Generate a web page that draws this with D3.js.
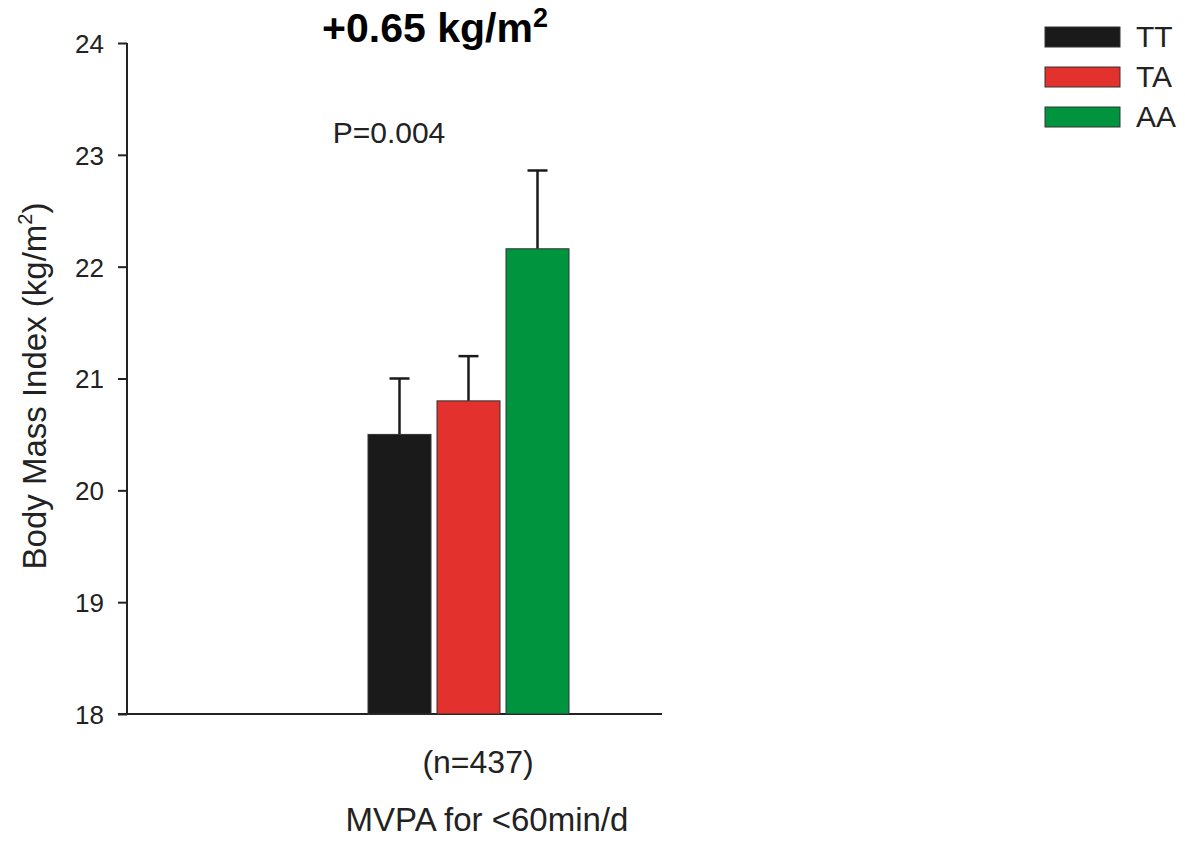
<!DOCTYPE html>
<html>
<head>
<meta charset="utf-8">
<script src="https://cdn.jsdelivr.net/npm/d3@7"></script>
<style>
  html, body { margin: 0; padding: 0; background: #fff; }
  svg { display: block; font-family: Arial, "Liberation Sans", sans-serif; }
</style>
</head>
<body>
<svg id="chart" width="1185" height="841"></svg>
<script>
// Genotype groups and their BMI means with standard errors
const genotypes = ["TT", "TA", "AA"];
const bmiMean = [20.5, 20.8, 22.16];
const bmiError = [0.5, 0.4, 0.7];
const colors = ["#1a1a1a", "#e3312d", "#00943f"];
const yTicks = [18, 19, 20, 21, 22, 23, 24];

const svg = d3.select("#chart");

const plot = { left: 127, right: 662, top: 43, bottom: 714 };

const y = d3.scaleLinear().domain([18, 24]).range([plot.bottom, plot.top]);

// Bars of the single activity group sit right of centre in the plot area
const x = d3.scaleBand()
  .domain(genotypes)
  .range([368, 569])
  .paddingInner(0.087)
  .paddingOuter(0);

// Y axis
const yAxis = d3.axisLeft(y).tickValues(yTicks).tickSize(9).tickPadding(14).tickFormat(d3.format("d"));
const gy = svg.append("g").attr("transform", `translate(${plot.left},0)`).call(yAxis);
gy.select(".domain").attr("stroke", "#222").attr("stroke-width", 2).attr("d", `M0,${plot.top}V${plot.bottom}`);
gy.selectAll(".tick line").attr("stroke", "#222").attr("stroke-width", 2);
gy.selectAll(".tick text").attr("font-size", 26).attr("fill", "#222").attr("dy", "0.36em");

// X axis baseline
svg.append("line")
  .attr("x1", plot.left - 9).attr("x2", plot.right)
  .attr("y1", plot.bottom).attr("y2", plot.bottom)
  .attr("stroke", "#222").attr("stroke-width", 2);

// Error bars (upper only)
const err = svg.append("g");
genotypes.forEach((g, i) => {
  const cx = x(g) + x.bandwidth() / 2;
  err.append("line")
    .attr("x1", cx).attr("x2", cx)
    .attr("y1", y(bmiMean[i])).attr("y2", y(bmiMean[i] + bmiError[i]))
    .attr("stroke", "#1a1a1a").attr("stroke-width", 2.5);
  err.append("line")
    .attr("x1", cx - 10).attr("x2", cx + 10)
    .attr("y1", y(bmiMean[i] + bmiError[i])).attr("y2", y(bmiMean[i] + bmiError[i]))
    .attr("stroke", "#1a1a1a").attr("stroke-width", 2.5);
});

// Bars
svg.append("g").selectAll("rect")
  .data(genotypes)
  .join("rect")
  .attr("x", d => x(d))
  .attr("width", x.bandwidth())
  .attr("y", (d, i) => y(bmiMean[i]))
  .attr("height", (d, i) => y(18) - y(bmiMean[i]))
  .attr("fill", (d, i) => colors[i])
  .attr("stroke", "#333")
  .attr("stroke-width", 1);

// Y axis title
svg.append("text")
  .attr("transform", `translate(46,386) rotate(-90)`)
  .attr("text-anchor", "middle")
  .attr("font-size", 33)
  .attr("fill", "#222")
  .html('Body Mass Index (kg/m<tspan dy="-14" font-size="20">2</tspan><tspan dy="14">)</tspan>');

// Headline effect size
svg.append("text")
  .attr("x", 435).attr("y", 42)
  .attr("text-anchor", "middle")
  .attr("font-size", 41).attr("font-weight", "bold")
  .attr("fill", "#000")
  .html('+0.65 kg/m<tspan dy="-15" font-size="27">2</tspan>');

// P value
svg.append("text")
  .attr("x", 389).attr("y", 143)
  .attr("text-anchor", "middle")
  .attr("font-size", 30).attr("fill", "#222")
  .text("P=0.004");

// Group annotations
svg.append("text")
  .attr("x", 478).attr("y", 773)
  .attr("text-anchor", "middle")
  .attr("font-size", 32).attr("fill", "#222")
  .text("(n=437)");
svg.append("text")
  .attr("x", 487).attr("y", 831)
  .attr("text-anchor", "middle")
  .attr("font-size", 33).attr("fill", "#222")
  .text("MVPA for <60min/d");

// Legend
const legend = svg.append("g");
genotypes.forEach((g, i) => {
  const ly = 27 + i * 40;
  legend.append("rect")
    .attr("x", 1045).attr("y", ly)
    .attr("width", 75).attr("height", 20)
    .attr("fill", colors[i]).attr("stroke", "#333").attr("stroke-width", 1);
  legend.append("text")
    .attr("x", 1136).attr("y", ly + 20)
    .attr("font-size", 30).attr("fill", "#222")
    .text(g);
});
</script>
</body>
</html>
